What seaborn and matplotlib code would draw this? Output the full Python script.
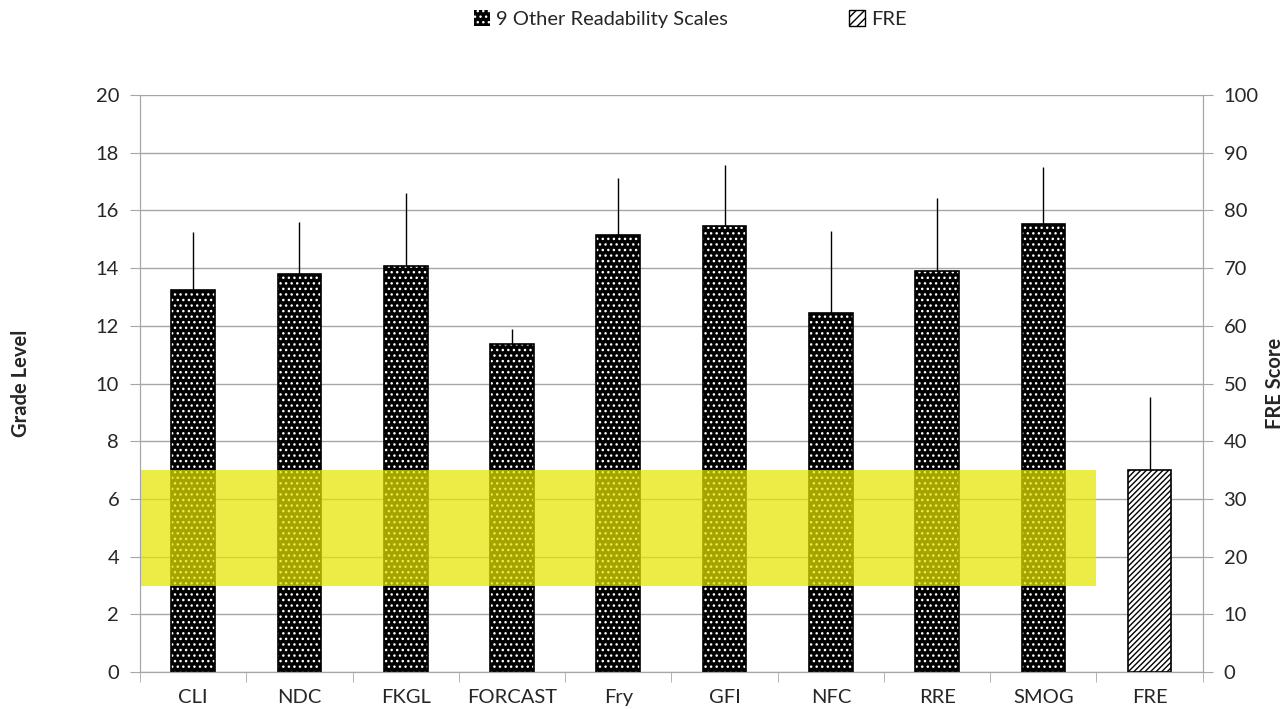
import matplotlib
matplotlib.use('Agg')
import matplotlib.pyplot as plt
import matplotlib.patches as mpatches
import seaborn as sns
import pandas as pd
import numpy as np

# Grade-level scales (left axis)
scales = ['CLI', 'NDC', 'FKGL', 'FORCAST', 'Fry', 'GFI', 'NFC', 'RRE', 'SMOG']
grade_mean = [13.25, 13.8, 14.07, 11.37, 15.15, 15.47, 12.44, 13.9, 15.52]
grade_sd = [2.0, 1.8, 2.55, 0.53, 1.97, 2.1, 2.86, 2.52, 2.0]

# Flesch reading ease (right axis)
fre_label = 'FRE'
fre_mean = [35.0]
fre_sd = [12.7]

order = scales + [fre_label]
target_band = (3, 7)

grade_df = pd.DataFrame({'Scale': scales, 'Grade': grade_mean, 'SD': grade_sd})
fre_df = pd.DataFrame({'Scale': [fre_label], 'Score': fre_mean, 'SD': fre_sd})

sns.set_style('white')
plt.rcParams['font.family'] = ['Lato', 'DejaVu Sans']
plt.rcParams['hatch.linewidth'] = 1.0
fs = 14.5

fig = plt.figure(figsize=(12.85, 7.09), dpi=100)
ax = fig.add_axes([0.109, 0.052, 0.827, 0.814])
ax2 = ax.twinx()

# 9 other scales: black bars with white dots
sns.barplot(data=grade_df, x='Scale', y='Grade', order=order, ax=ax,
            color='black', width=0.41, errorbar=None, saturation=1,
            edgecolor='white', linewidth=0, hatch='...')
for p in list(ax.patches):
    ax.add_patch(mpatches.Rectangle(p.get_xy(), p.get_width(), p.get_height(),
                                    fill=False, edgecolor='black', linewidth=1.2, zorder=3))
ax.errorbar(np.arange(len(scales)), grade_mean,
            yerr=[np.zeros(len(scales)), grade_sd],
            fmt='none', ecolor='black', elinewidth=1, capsize=0, zorder=2)

# FRE on the right axis
sns.barplot(data=fre_df, x='Scale', y='Score', order=order, ax=ax2,
            color='white', width=0.41, errorbar=None, saturation=1,
            edgecolor='black', linewidth=1.2, hatch='//////')
ax2.errorbar([order.index(fre_label)], fre_mean,
             yerr=[[0], fre_sd], fmt='none', ecolor='black',
             elinewidth=1, capsize=0, zorder=2)

# yellow target band
ax.fill_between([-0.5, len(scales) - 0.5], target_band[0], target_band[1],
                color='#e5e500', alpha=0.72, linewidth=0, zorder=4)

ax.set_xlim(-0.5, len(order) - 0.5)
ax.set_ylim(0, 20)
ax2.set_ylim(0, 100)
ax.set_yticks(range(0, 21, 2))
ax2.set_yticks(range(0, 101, 10))
ax.yaxis.grid(True, color='#a6a6a6', linewidth=1)
ax.set_axisbelow(True)
ax.set_xticks(range(len(order)))
ax.set_xticklabels(order)
ax.set_xticks(np.arange(-0.5, len(order), 1), minor=True)

for a in (ax, ax2):
    a.spines['top'].set_visible(False)
    for s in ('left', 'right', 'bottom'):
        a.spines[s].set_color('#a6a6a6')
ax.tick_params(axis='y', which='major', length=7, color='#a6a6a6', labelsize=fs, pad=8, left=True)
ax2.tick_params(axis='y', which='major', length=7, color='#a6a6a6', labelsize=fs, pad=8, right=True)
ax.tick_params(axis='x', which='major', length=0, labelsize=fs, pad=12)
ax.tick_params(axis='x', which='minor', length=7, color='#a6a6a6', bottom=True)
ax2.tick_params(axis='x', which='both', bottom=False)

ax.set_xlabel('')
ax2.set_xlabel('')
ax.set_ylabel('Grade Level', fontsize=fs, fontweight='bold', va='center')
ax2.set_ylabel('FRE Score', fontsize=fs, fontweight='bold', va='center', rotation=90)
ax.yaxis.set_label_coords(-0.112, 0.5)
ax2.yaxis.set_label_coords(1.068, 0.5)

handles = [mpatches.Patch(facecolor='black', edgecolor='white', hatch='...', linewidth=0),
           mpatches.Patch(facecolor='white', edgecolor='black', hatch='////')]
fig.legend(handles, ['9 Other Readability Scales', 'FRE'], loc='center',
           bbox_to_anchor=(0.537, 0.973), ncol=2, frameon=False, fontsize=fs,
           handlelength=0.8, handleheight=0.8, handletextpad=0.3, columnspacing=6)

fig.savefig('out.png', dpi=100)
